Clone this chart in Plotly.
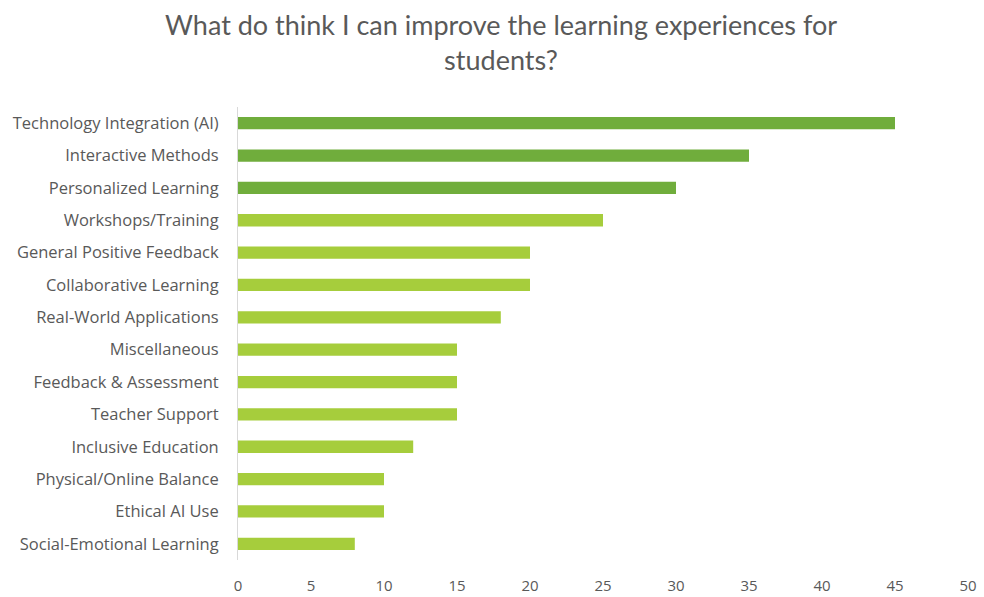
import plotly.graph_objects as go

categories = [
    "Technology Integration (AI)",
    "Interactive Methods",
    "Personalized Learning",
    "Workshops/Training",
    "General Positive Feedback",
    "Collaborative Learning",
    "Real-World Applications",
    "Miscellaneous",
    "Feedback & Assessment",
    "Teacher Support",
    "Inclusive Education",
    "Physical/Online Balance",
    "Ethical AI Use",
    "Social-Emotional Learning",
]
counts = [45, 35, 30, 25, 20, 20, 18, 15, 15, 15, 12, 10, 10, 8]
top_n = 3
dark_green = "#70ad3c"
light_green = "#a6cd3c"
colors = [dark_green if i < top_n else light_green for i in range(len(categories))]
x_ticks = list(range(0, 55, 5))
title_text = "What do think I can improve the learning experiences for<br>students?"

fig = go.Figure(
    go.Bar(
        x=counts,
        y=categories,
        orientation="h",
        marker=dict(color=colors, line=dict(width=0)),
        hoverinfo="x+y",
    )
)

fig.update_layout(
    width=984,
    height=597,
    paper_bgcolor="white",
    plot_bgcolor="white",
    margin=dict(l=238, r=16, t=107, b=37),
    bargap=0.62,
    showlegend=False,
    font=dict(family="Open Sans, Lato, sans-serif", color="#595959"),
)

# Two-line chart heading placed above the plot area
fig.add_annotation(
    text=title_text,
    xref="paper",
    yref="paper",
    x=0.36,
    y=1.222,
    xanchor="center",
    yanchor="top",
    showarrow=False,
    align="center",
    font=dict(size=27, color="#595959", family="Lato, Open Sans, sans-serif"),
)

fig.update_xaxes(
    range=[0, 50],
    tickvals=x_ticks,
    showgrid=False,
    zeroline=False,
    showline=False,
    ticks="",
    automargin=False,
    tickfont=dict(size=15, color="#595959"),
    ticklabelstandoff=15,
)
fig.update_yaxes(
    categoryorder="array",
    categoryarray=categories[::-1],
    showgrid=False,
    showline=True,
    linecolor="#d9d9d9",
    linewidth=1,
    ticks="",
    automargin=False,
    tickfont=dict(size=16.5, color="#595959"),
    ticklabelstandoff=15,
)

fig.write_html("out.html")
